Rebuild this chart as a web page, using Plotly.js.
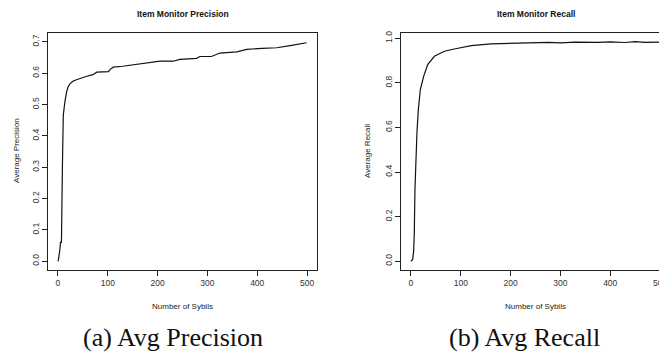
<!DOCTYPE html>
<html>
<head>
<meta charset="utf-8">
<script src="https://cdn.plot.ly/plotly-3.0.1.min.js"></script>
<style>
html,body{margin:0;padding:0;background:#fff;overflow:hidden;width:659px;height:353px;}
#chart{width:672px;height:353px;}
</style>
</head>
<body>
<div id="chart"></div>
<script>
// Precision curve (Number of Sybils vs Average Precision)
const precX = [0, 1, 4, 5, 7, 7.4, 8, 9, 10.7, 12, 14, 17.4, 20, 24, 30, 37, 45, 58, 70, 78, 90, 101, 105, 111, 130, 151, 170, 185, 205, 231, 245, 278, 285, 308, 325, 359, 379, 410, 439, 466, 480, 499];
const precY = [0.0, 0.005, 0.039, 0.06, 0.06, 0.14, 0.31, 0.31, 0.466, 0.49, 0.51, 0.54, 0.555, 0.566, 0.574, 0.579, 0.584, 0.59, 0.595, 0.603, 0.604, 0.605, 0.612, 0.619, 0.622, 0.627, 0.631, 0.634, 0.638, 0.638, 0.644, 0.647, 0.653, 0.653, 0.664, 0.668, 0.676, 0.679, 0.681, 0.688, 0.691, 0.697];

// Recall curve (Number of Sybils vs Average Recall)
const recX = [0, 3.4, 5.4, 6.7, 8, 9.4, 12, 14.8, 18.8, 25.6, 33.6, 47, 67, 87, 121, 161, 208, 240, 276, 300, 330, 376, 400, 430, 450, 470, 500];
const recY = [0.0, 0.008, 0.045, 0.127, 0.32, 0.456, 0.576, 0.68, 0.77, 0.83, 0.882, 0.919, 0.942, 0.952, 0.967, 0.975, 0.979, 0.98, 0.982, 0.979, 0.983, 0.982, 0.984, 0.981, 0.985, 0.982, 0.983];

const precTicks = [0, 0.1, 0.2, 0.3, 0.4, 0.5, 0.6, 0.7];
const recTicks = [0, 0.2, 0.4, 0.6, 0.8, 1.0];
const xTicks = [0, 100, 200, 300, 400, 500];

const titles = ["Item Monitor Precision", "Item Monitor Recall"];
const xTitle = "Number of Sybils";
const yTitles = ["Average Precision", "Average Recall"];
const captions = ["(a) Avg Precision", "(b) Avg Recall"];

const W = 672, H = 353;
const tickFont = {family: "Liberation Sans, Arial, sans-serif", size: 8.5, color: "#333"};

function xa(domainPx) {
  return {
    domain: [domainPx[0] / W, domainPx[1] / W],
    range: [-20, 520],
    tickvals: xTicks, ticktext: xTicks.map(String),
    ticks: "outside", ticklen: 5, tickwidth: 1, tickcolor: "#222",
    showline: true, linecolor: "#222", linewidth: 1, mirror: true,
    showgrid: false, zeroline: false, tickfont: tickFont, fixedrange: true
  };
}
function ya(range, ticks) {
  return {
    domain: [1 - 270 / H, 1 - 33 / H],
    range: range,
    tickvals: ticks, ticktext: ticks.map(v => v.toFixed(1)),
    tickangle: -90,
    ticks: "outside", ticklen: 5, tickwidth: 1, tickcolor: "#222",
    showline: true, linecolor: "#222", linewidth: 1, mirror: true,
    showgrid: false, zeroline: false, tickfont: tickFont, fixedrange: true
  };
}

const traces = [
  {x: precX, y: precY, type: "scatter", mode: "lines", line: {color: "#111", width: 1.2}, xaxis: "x", yaxis: "y", hoverinfo: "skip"},
  {x: recX, y: recY, type: "scatter", mode: "lines", line: {color: "#111", width: 1.2}, xaxis: "x2", yaxis: "y2", hoverinfo: "skip"}
];

const axisTitleFont = {family: "Liberation Sans, Arial, sans-serif", size: 8, color: "#222"};
const titleFont = {family: "Liberation Sans, Arial, sans-serif", size: 8.5, color: "#111"};
const capFont = {family: "Liberation Serif, DejaVu Serif, serif", size: 26, color: "#111"};

const centers = [182.5, 535.5];
const annotations = [];
for (let i = 0; i < 2; i++) {
  annotations.push({text: "<b>" + titles[i] + "</b>", x: centers[i] / W, y: 1 - 14 / H, xref: "paper", yref: "paper", showarrow: false, font: titleFont, xanchor: "center", yanchor: "middle"});
  annotations.push({text: xTitle, x: centers[i] / W, y: 1 - 306 / H, xref: "paper", yref: "paper", showarrow: false, font: axisTitleFont, xanchor: "center", yanchor: "middle"});
}
annotations.push({text: yTitles[0], x: 16 / W, y: 1 - 151 / H, xref: "paper", yref: "paper", showarrow: false, textangle: -90, font: axisTitleFont, xanchor: "center", yanchor: "middle"});
annotations.push({text: yTitles[1], x: 367 / W, y: 1 - 151 / H, xref: "paper", yref: "paper", showarrow: false, textangle: -90, font: axisTitleFont, xanchor: "center", yanchor: "middle"});
annotations.push({text: captions[0], x: 173 / W, y: 1 - 337 / H, xref: "paper", yref: "paper", showarrow: false, font: capFont, xanchor: "center", yanchor: "middle"});
annotations.push({text: captions[1], x: 524 / W, y: 1 - 337 / H, xref: "paper", yref: "paper", showarrow: false, font: capFont, xanchor: "center", yanchor: "middle"});

const layout = {
  width: W, height: H,
  margin: {l: 0, r: 0, t: 0, b: 0},
  paper_bgcolor: "#fff", plot_bgcolor: "#fff",
  showlegend: false,
  xaxis: xa([48, 317]),
  yaxis: ya([-0.028, 0.728], precTicks),
  xaxis2: Object.assign(xa([401, 670]), {anchor: "y2"}),
  yaxis2: Object.assign(ya([-0.0394, 1.0237], recTicks), {anchor: "x2"}),
  annotations: annotations
};
layout.xaxis.anchor = "y";
layout.yaxis.anchor = "x";

Plotly.newPlot("chart", traces, layout, {staticPlot: true, displayModeBar: false});
</script>
</body>
</html>
